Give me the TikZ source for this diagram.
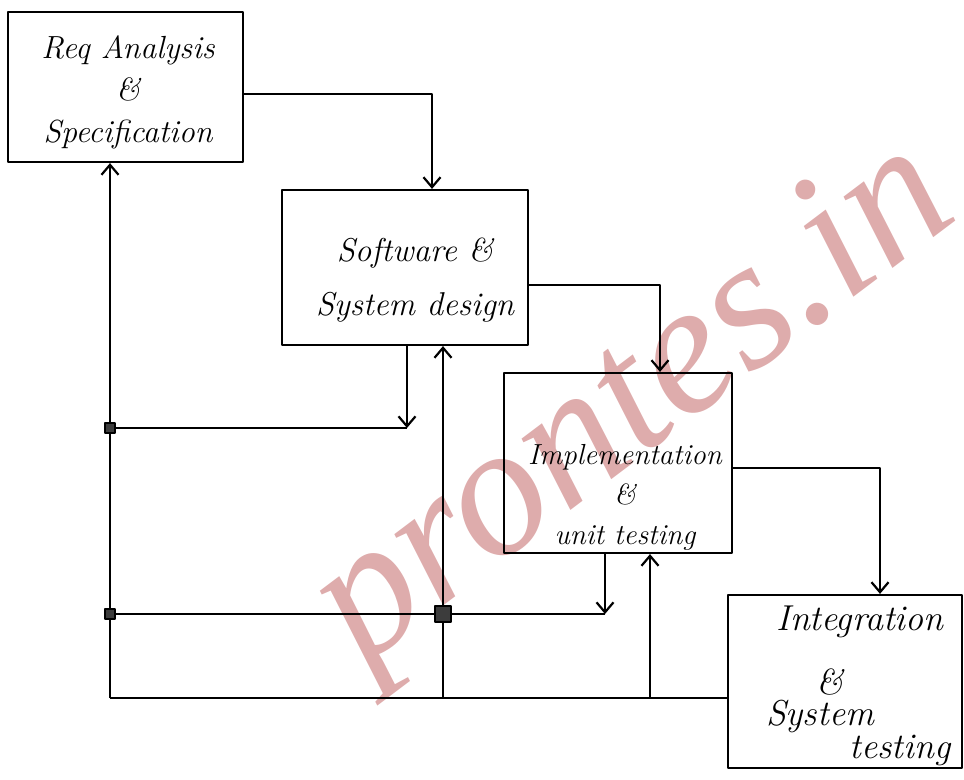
\documentclass[tikz,border=0pt]{standalone}
\usepackage{fontspec}
\usetikzlibrary{arrows.meta}
\newfontfamily\wmfont{Liberation Serif}
\definecolor{wmpink}{RGB}{222,172,172}
\definecolor{sqgray}{RGB}{60,60,60}
\begin{document}
\begin{tikzpicture}[x=0.5pt,y=-0.5pt,
  line width=1.1pt, line join=round,
  box/.style={draw, rectangle, inner sep=0pt},
  lbl/.style={font=\fontsize{16}{21}\selectfont\itshape, align=center, inner sep=0pt},
  arr/.style={-{Straight Barb[length=5pt,width=8.5pt,line width=1.1pt]}},
  jsq/.style={rectangle, fill=sqgray, draw=black, line width=0.6pt, inner sep=0pt, minimum size=#1},
  jsq/.default=5pt]
\useasboundingbox (0,0) rectangle (964,780);
% watermark
\node[rotate=37, anchor=base west, text=wmpink, font=\wmfont\itshape\fontsize{94}{94}\selectfont, inner sep=0pt] (wm) at (362,668) {prontes.in};
% boxes
\node[box, minimum width=117.5pt, minimum height=75pt] (A) at (125.5,87) {};
\node[box, minimum width=123pt, minimum height=77.5pt] (B) at (405,267.5) {};
\node[box, minimum width=114pt, minimum height=90pt] (C) at (618,463) {};
\node[box, minimum width=117pt, minimum height=86.5pt] (D) at (845,681.5) {};
% labels
\node[lbl] (tA) at (128,92) {Req Analysis\\ \&\\ Specification};
\node[lbl, font=\fontsize{16.5}{27}\selectfont\itshape] (tB) at (415,280) {Software \&\\ System design};
\node[lbl, font=\fontsize{14.5}{20}\selectfont\itshape] (tC) at (625,497) {Implementation\\ \&\\ unit testing};
\node[lbl, font=\fontsize{18}{21}\selectfont\itshape] (tD1) at (860,622) {Integration};
\node[lbl, font=\fontsize{18}{21}\selectfont\itshape] (tD2) at (830,682) {\&};
\node[lbl, font=\fontsize{18}{21}\selectfont\itshape] (tD3) at (820,716) {System};
\node[lbl, font=\fontsize{18}{21}\selectfont\itshape] (tD4) at (900,750) {testing};
% forward flow
\draw[arr] ([yshift=-3.5pt]A.east) -| ([xshift=13.5pt]B.north);
\draw[arr] ([yshift=-8.75pt]B.east) -| ([xshift=21pt]C.north);
\draw[arr] ([yshift=-2.5pt]C.east) -| ([xshift=17.5pt]D.north);
% junction coordinates
\coordinate (j1) at (110,428);
\coordinate (j2) at (110,614);
\coordinate (j3) at (443,614);
\coordinate (bl) at (110,698);
\coordinate (bB) at (443,698);
\coordinate (bC) at (650,698);
\coordinate (cB) at (407,428);
\coordinate (cC) at (605,614);
% feedback lines
\draw[arr] (bl) -- (j2) -- (j1) -- (A.south -| j1);
\draw[arr] (B.south -| cB) -- (cB);
\draw (cB) -- (j1);
\draw[arr] (C.south -| cC) -- (cC);
\draw (cC) -- (j3) -- (j2);
\draw (D.west |- bl) -- (bl);
\draw[arr] (bB) -- (B.south -| bB);
\draw[arr] (bC) -- (C.south -| bC);
% junction squares
\node[jsq] (s1) at (j1) {};
\node[jsq] (s2) at (j2) {};
\node[jsq=8pt] (s3) at (j3) {};
\end{tikzpicture}
\end{document}
